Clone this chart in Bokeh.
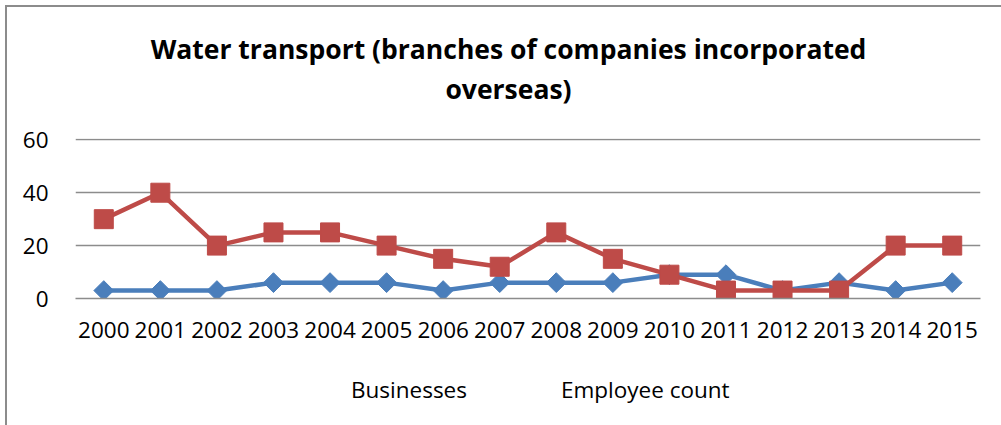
import math
from bokeh.plotting import figure
from bokeh.layouts import column
from bokeh.models import Range1d, Legend, LegendItem, Label, FixedTicker
from bokeh.embed import file_html
from bokeh.resources import INLINE

years = ["2000", "2001", "2002", "2003", "2004", "2005", "2006", "2007",
         "2008", "2009", "2010", "2011", "2012", "2013", "2014", "2015"]
businesses = [3, 3, 3, 6, 6, 6, 3, 6, 6, 6, 9, 9, 3, 6, 3, 6]
employees = [30, 40, 20, 25, 25, 20, 15, 12, 25, 15, 9, 3, 3, 3, 20, 20]
series_names = ["Businesses", "Employee count"]
title_lines = ["Water transport (branches of companies incorporated", "overseas)"]

FONT = "Open Sans"
BLUE = "#4A7EBB"
RED = "#BE4B48"
GRID = "#8c8c8c"
LABEL_SIZE = "22.5px"
W = 994


def blank(h):
    f = figure(width=W, height=h, output_backend="svg", toolbar_location=None,
               x_axis_type=None, y_axis_type=None, min_border=0,
               x_range=Range1d(0, 1), y_range=Range1d(0, 1))
    f.outline_line_color = None
    f.background_fill_color = "white"
    f.border_fill_color = "white"
    f.grid.visible = False
    return f


# ---- title strip ----
pt = blank(111)
for t, y in zip(title_lines, [70, 30]):
    pt.add_layout(Label(x=433, y=y, x_units="screen", y_units="screen", text=t,
                        text_align="center", text_baseline="middle",
                        text_font=FONT, text_font_size="26.5px", text_font_style="bold",
                        text_color="black"))

# ---- chart ----
p = figure(width=W, height=232, frame_width=905, frame_height=160,
           x_range=years, y_range=Range1d(0, 60.5),
           output_backend="svg", toolbar_location=None,
           min_border_left=68, min_border_right=21, min_border_top=20,
           min_border_bottom=52)
p.outline_line_color = None
p.background_fill_color = "white"
p.border_fill_color = "white"

p.xgrid.grid_line_color = None
p.ygrid.grid_line_color = GRID
p.ygrid.grid_line_width = 1.5
p.yaxis.ticker = FixedTicker(ticks=[0, 20, 40, 60])
p.yaxis.axis_line_color = None
p.yaxis.major_tick_line_color = None
p.yaxis.minor_tick_line_color = None
p.yaxis.major_label_text_font = FONT
p.yaxis.major_label_text_font_size = LABEL_SIZE
p.yaxis.major_label_text_color = "black"
p.yaxis.major_label_standoff = 21

p.xaxis.axis_line_color = GRID
p.xaxis.axis_line_width = 1.5
p.xaxis.major_tick_line_color = None
p.xaxis.minor_tick_line_color = None
p.xaxis.major_label_text_font = FONT
p.xaxis.major_label_text_font_size = LABEL_SIZE
p.xaxis.major_label_text_color = "black"
p.xaxis.major_label_standoff = 17
p.x_range.range_padding = 0

p.line(years, businesses, line_color=BLUE, line_width=4.5)
p.scatter(years, businesses, marker="square", angle=math.pi / 4, size=14,
          fill_color=BLUE, line_color=BLUE)
p.line(years, employees, line_color=RED, line_width=4.5)
p.scatter(years, employees, marker="square", size=19, fill_color=RED, line_color=RED)

# ---- legend strip (swatch renderers carry no data) ----
pl = blank(75)
bl = pl.line([], [], line_color=BLUE, line_width=4.5)
bm = pl.scatter([], [], marker="square", angle=math.pi / 4, size=14,
                fill_color=BLUE, line_color=BLUE)
el = pl.line([], [], line_color=RED, line_width=4.5)
em = pl.scatter([], [], marker="square", size=19, fill_color=RED, line_color=RED)
legend = Legend(items=[LegendItem(label=series_names[0], renderers=[bl, bm]),
                       LegendItem(label=series_names[1], renderers=[el, em])],
                orientation="horizontal", location=(216, 20),
                label_text_font=FONT, label_text_font_size=LABEL_SIZE,
                label_text_color="black",
                glyph_width=56, glyph_height=20, spacing=34, padding=0,
                border_line_color=None, background_fill_alpha=0, margin=0,
                label_standoff=4)
pl.add_layout(legend)

page = column(pt, p, pl, spacing=0)
page.styles = {"border-left": "2px solid #8c8c8c", "border-top": "2px solid #8c8c8c",
               "margin-left": "5px", "margin-top": "5px"}

open("out.html", "w").write(file_html(page, INLINE))
